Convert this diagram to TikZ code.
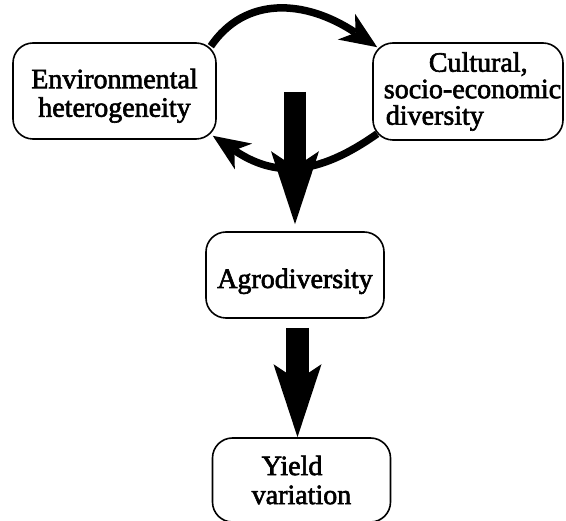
\documentclass[tikz,border=0pt]{standalone}
\usepackage{fontspec}
\setmainfont{Liberation Serif}[FakeBold=2.2]
\usetikzlibrary{arrows.meta,calc}
\begin{document}
\begin{tikzpicture}[x=1pt,y=-1pt]
\tikzset{
  box/.style={draw, line width=1.6pt, rounded corners=20pt, inner sep=0pt,
              font=\fontsize{28}{28.5}\selectfont},
  fatarrow/.style={line width=22.5pt,
    -{Stealth[length=73pt,width=48pt,inset=16pt,line width=0pt]}},
  looparrow/.style={line width=7.5pt,
    -{Stealth[length=37pt,width=31pt,inset=11pt,line width=0pt]}}
}
\useasboundingbox (0,0) rectangle (566,521);

\node[box, minimum width=203pt, minimum height=96pt, align=center] (env) at (114.5,91)
  {\rule{0pt}{29pt}Environmental\\heterogeneity};
\node[box, minimum width=190pt, minimum height=97pt, align=left,
      font=\fontsize{28}{26.5}\selectfont] (cult) at (468,91.5)
  {\hspace*{54pt}Cultural,\\\hspace*{9pt}socio-economic\\\hspace*{11pt}diversity};
\node[box, minimum width=178pt, minimum height=86pt] (agro) at (295,275)
  {\rule{0pt}{32pt}Agrodiversity};
\node[box, minimum width=178pt, minimum height=84pt, align=left,
      font=\fontsize{28}{29}\selectfont] (yield) at (301.5,480)
  {\hspace*{10pt}Yield\\variation};

% feedback loop
\draw[looparrow] ([shift={(-6,4)}]env.north east)
  .. controls (245,-4) and (305,-1) .. ([shift={(5,5)}]cult.north west);
\draw[looparrow] ([shift={(5,-7)}]cult.south west)
  .. controls (316,177) and (274,177) .. ([shift={(-4,-4)}]env.south east);

% fat arrows
\coordinate (s1) at (295,92);
\coordinate (s2) at (297.5,328);
\draw[fatarrow] (s1) -- ($(s1 |- agro.north)+(0,-7)$);
\draw[fatarrow] (s2) -- (s2 |- yield.north);
\end{tikzpicture}
\end{document}
